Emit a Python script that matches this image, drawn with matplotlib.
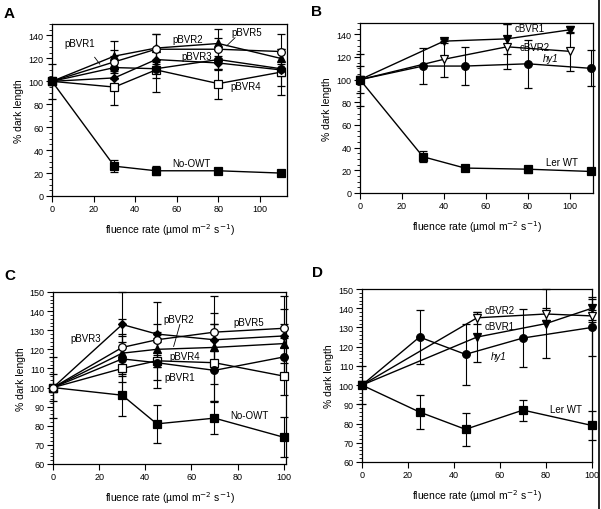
import numpy as np
import matplotlib.pyplot as plt
from matplotlib.lines import Line2D
from matplotlib.ticker import MultipleLocator

plt.rcParams['font.family'] = ['Liberation Sans', 'DejaVu Sans']

# ---- panel A ----
xA = [0, 30, 50, 80, 110]
A_pBVR1 = [100, 112, 111, 119, 111]
A_pBVR1_err = [0, 10, 8, 8, 15]
A_pBVR2 = [100, 122, 129, 133, 120]
A_pBVR2_err = [0, 13, 12, 13, 8]
A_pBVR3 = [100, 103, 119, 116, 110]
A_pBVR3_err = [0, 8, 10, 6, 5]
A_pBVR4 = [100, 95, 110, 98, 108]
A_pBVR4_err = [15, 16, 19, 13, 20]
A_pBVR5 = [100, 117, 128, 128, 126]
A_pBVR5_err = [0, 10, 13, 10, 15]
A_noowt = [100, 26, 22, 22, 20]
A_noowt_err = [0, 5, 4, 2, 2]

# ---- panel B ----
xB_c = [0, 40, 70, 100]
B_cBVR1 = [100, 134, 136, 144]
B_cBVR1_err = [0, 2, 13, 3]
B_cBVR2 = [100, 118, 129, 125]
B_cBVR2_err = [0, 16, 20, 17]
xB = [0, 30, 50, 80, 110]
B_hy1 = [100, 112, 112, 114, 110]
B_hy1_err = [12, 16, 17, 21, 16]
B_ler = [100, 32, 22, 21, 19]
B_ler_err = [23, 5, 3, 3, 1]

# ---- panel C ----
xC = [0, 30, 45, 70, 100]
C_pBVR1 = [100, 115, 113, 109, 116]
C_pBVR1_err = [0, 12, 13, 16, 10]
C_pBVR2 = [100, 118, 120, 121, 123]
C_pBVR2_err = [0, 10, 9, 12, 10]
C_pBVR3 = [100, 133, 128, 125, 127]
C_pBVR3_err = [0, 17, 17, 23, 21]
C_pBVR4 = [100, 110, 114, 113, 106]
C_pBVR4_err = [7, 14, 10, 20, 10]
C_pBVR5 = [100, 121, 125, 129, 131]
C_pBVR5_err = [0, 15, 8, 10, 10]
C_noowt = [100, 96, 81, 84, 74]
C_noowt_err = [16, 11, 10, 8.5, 10.5]

# ---- panel D ----
xD_h = [0, 25, 45, 70, 100]
D_hy1 = [100, 125, 116, 124.5, 130]
D_hy1_err = [10, 14, 16, 15, 15]
xD_c = [0, 50, 80, 100]
D_cBVR1 = [100, 125, 132, 140]
D_cBVR1_err = [0, 13, 18, 6]
D_cBVR2 = [100, 135, 137, 136]
D_cBVR2_err = [0, 3, 3, 3]
D_ler = [100, 86, 77, 87, 79]
D_ler_err = [0, 9, 8.5, 5.5, 7.5]

W, H = 601, 510
fig = plt.figure(figsize=(W / 100, H / 100), dpi=100)


def box(l, t, r, b):
    return [l / W, 1 - b / H, (r - l) / W, (b - t) / H]


def series(ax, x, y, err, marker, ms, filled=True):
    ax.errorbar(x, y, yerr=err, color='black', lw=1.0, elinewidth=0.8,
                capsize=2.8, capthick=0.8, marker=marker, ms=ms,
                mfc='black' if filled else 'white', mec='black', mew=0.9,
                clip_on=False, zorder=3)


def style(ax, xmax, ylim, ymajor, yminor):
    ax.set_xlim(0, xmax)
    ax.set_ylim(*ylim)
    ax.set_xticks([0, 20, 40, 60, 80, 100])
    ax.yaxis.set_major_locator(MultipleLocator(ymajor))
    ax.yaxis.set_minor_locator(MultipleLocator(yminor))
    ax.tick_params(axis='both', which='major', labelsize=6.5, length=4,
                   width=0.8, direction='out', pad=2)
    ax.tick_params(axis='y', which='minor', length=2, width=0.6,
                   direction='out')
    for s in ax.spines.values():
        s.set_linewidth(0.9)
    ax.set_xlabel('fluence rate (µmol m$^{-2}$ s$^{-1}$)', fontsize=7.5,
                  labelpad=6)
    ax.set_ylabel('% dark length', fontsize=7.5, labelpad=3)


txt = dict(fontsize=7, ha='center', va='center')

# A
axA = fig.add_axes(box(52, 25, 287, 197))
series(axA, xA, A_pBVR4, A_pBVR4_err, 's', 5.5, False)
series(axA, xA, A_pBVR3, A_pBVR3_err, 'D', 4.5)
series(axA, xA, A_pBVR1, A_pBVR1_err, 'o', 5.5)
series(axA, xA, A_pBVR2, A_pBVR2_err, '^', 5.5)
series(axA, xA, A_pBVR5, A_pBVR5_err, 'o', 5.5, False)
series(axA, xA, A_noowt, A_noowt_err, 's', 6)
style(axA, 113, (0, 150), 20, 5)
axA.text(13.5, 133, 'pBVR1', **txt)
axA.plot([20.5, 23], [121, 115], color='black', lw=0.6)
axA.text(65.5, 137, 'pBVR2', **txt)
axA.text(93.5, 143, 'pBVR5', **txt)
axA.plot([88, 84], [138, 131], color='black', lw=0.6)
axA.text(69.5, 122.5, 'pBVR3', **txt)
axA.text(93, 96, 'pBVR4', **txt)
axA.text(67, 29, 'No-OWT', **txt)

# B
axB = fig.add_axes(box(360, 24, 593, 194))
series(axB, xB, B_hy1, B_hy1_err, 'o', 5.5)
series(axB, xB_c, B_cBVR2, B_cBVR2_err, 'v', 5.5, False)
series(axB, xB_c, B_cBVR1, B_cBVR1_err, 'v', 5.5)
series(axB, xB, B_ler, B_ler_err, 's', 6)
style(axB, 111, (0, 150), 20, 5)
axB.text(81, 146, 'cBVR1', **txt)
axB.text(83, 128.5, 'cBVR2', **txt)
axB.text(91, 119.5, 'hy1', style='italic', **txt)
axB.text(96, 27, 'Ler WT', **txt)

# C
axC = fig.add_axes(box(53, 293, 286, 465))
series(axC, xC, C_noowt, C_noowt_err, 's', 6)
series(axC, xC, C_pBVR4, C_pBVR4_err, 's', 5.5, False)
series(axC, xC, C_pBVR1, C_pBVR1_err, 'o', 5.5)
series(axC, xC, C_pBVR2, C_pBVR2_err, '^', 5.5)
series(axC, xC, C_pBVR3, C_pBVR3_err, 'D', 4.5)
series(axC, xC, C_pBVR5, C_pBVR5_err, 'o', 5.5, False)
style(axC, 101, (60, 150), 10, 2)
axC.text(14, 126, 'pBVR3', **txt)
axC.text(54.5, 136, 'pBVR2', **txt)
axC.plot([55, 52.3], [133, 121.5], color='black', lw=0.6)
axC.text(85, 134.5, 'pBVR5', **txt)
axC.text(57, 116.5, 'pBVR4', **txt)
axC.text(55, 105.5, 'pBVR1', **txt)
axC.text(85, 85.5, 'No-OWT', **txt)

# D
axD = fig.add_axes(box(362, 290, 592, 463))
series(axD, xD_h, D_hy1, D_hy1_err, 'o', 5.5)
series(axD, xD_c, D_cBVR1, D_cBVR1_err, 'v', 5.5)
series(axD, xD_c, D_cBVR2, D_cBVR2_err, 'v', 5.5, False)
series(axD, xD_h, D_ler, D_ler_err, 's', 6)
style(axD, 100, (60, 150), 10, 2)
axD.text(60, 139, 'cBVR2', **txt)
axD.text(60, 131, 'cBVR1', **txt)
axD.text(59.5, 115, 'hy1', style='italic', **txt)
axD.text(88.5, 87.5, 'Ler WT', **txt)

# panel letters
for lab, px, py in [('A', 4, 14), ('B', 311, 12), ('C', 4, 276), ('D', 312, 273)]:
    fig.text(px / W, 1 - py / H, lab, fontsize=11, fontweight='bold',
             ha='left', va='center')

# frame line at right edge
fig.add_artist(Line2D([599 / W, 599 / W], [0, 1], color='black', lw=1.2))

fig.savefig('out.png', dpi=100)
